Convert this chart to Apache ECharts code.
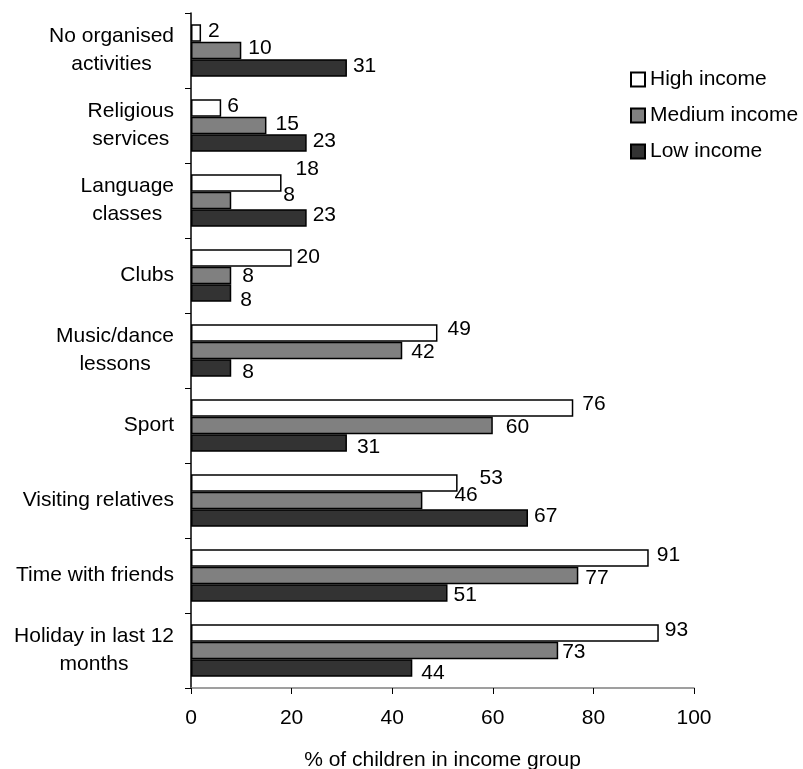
<!DOCTYPE html>
<html>
<head>
<meta charset="utf-8">
<script src="https://cdn.jsdelivr.net/npm/echarts@6/dist/echarts.min.js"></script>
<style>
  html, body { margin: 0; padding: 0; background: #ffffff; }
  #chart { width: 803px; height: 769px; }
</style>
</head>
<body>
<div id="chart"></div>
<script>
// Activities, listed top to bottom
const categories = [
  'No organised\nactivities',
  'Religious\nservices',
  'Language\nclasses',
  'Clubs',
  'Music/dance\nlessons',
  'Sport',
  'Visiting relatives',
  'Time with friends',
  'Holiday in last 12\nmonths'
];

const seriesNames = ['High income', 'Medium income', 'Low income'];

// % of children in each income group taking part
const highIncome   = [2, 6, 18, 20, 49, 76, 53, 91, 93];
const mediumIncome = [10, 15, 8, 8, 42, 60, 46, 77, 73];
const lowIncome    = [31, 23, 23, 8, 8, 31, 67, 51, 44];

// x axis scale
const xMin = 0;
const xMax = 100;
const xStep = 20;

// small label nudges [dx, dy] so crowded value labels stay readable
const highNudge   = [[1,-2],[0,-2],[8,-14],[-1,-1],[4,-4],[3,-4],[16,-5],[2,-3],[0,-3]];
const mediumNudge = [[1,-2],[3,-1],[46,-5],[5,1],[3,2],[7,2],[26,-5],[1,3],[-2,2]];
const lowNudge    = [[0,-2],[0,-2],[0,-3],[3,7],[5,4],[4,4],[0,-2],[0,2],[3,5]];

const FONT = '"Liberation Sans", Arial, Helvetica, sans-serif';
const FS = 21;

function withNudges(values, nudges) {
  return values.map((v, i) => ({ value: v, label: { offset: nudges[i] } }));
}

function barSeries(name, values, nudges, fill) {
  return {
    name: name,
    type: 'bar',
    barGap: '0%',
    barCategoryGap: '30%',
    itemStyle: { color: fill, borderColor: '#000000', borderWidth: 1.5 },
    label: {
      show: true,
      position: 'right',
      distance: 6,
      color: '#000000',
      fontSize: FS,
      fontFamily: FONT
    },
    emphasis: { disabled: true },
    data: withNudges(values, nudges)
  };
}

const chart = echarts.init(document.getElementById('chart'), null, { renderer: 'canvas' });

chart.setOption({
  animation: false,
  backgroundColor: '#ffffff',
  textStyle: { fontFamily: FONT },
  grid: { left: 191, right: 109, top: 13, bottom: 81, containLabel: false, outerBoundsMode: 'none' },
  legend: {
    orient: 'vertical',
    left: 630,
    top: 69,
    padding: 0,
    icon: 'rect',
    itemWidth: 14,
    itemHeight: 14,
    itemGap: 15,
    selectedMode: false,
    data: seriesNames,
    textStyle: { fontSize: FS, lineHeight: 21, color: '#000000', fontFamily: FONT }
  },
  xAxis: {
    type: 'value',
    min: xMin,
    max: xMax,
    interval: xStep,
    name: '% of children in income group',
    nameLocation: 'middle',
    nameGap: 62,
    nameTextStyle: { fontSize: FS, color: '#000000', fontFamily: FONT },
    axisLine: { show: true, lineStyle: { color: '#808080', width: 1.5 } },
    axisTick: { show: true, length: 6, lineStyle: { color: '#000000', width: 1 } },
    axisLabel: { margin: 20, fontSize: FS, color: '#000000', fontFamily: FONT },
    splitLine: { show: false }
  },
  yAxis: {
    type: 'category',
    inverse: true,
    data: categories,
    axisLine: { show: true, lineStyle: { color: '#000000', width: 1.5 } },
    axisTick: { show: true, length: 6, alignWithLabel: false, lineStyle: { color: '#000000', width: 1 } },
    axisLabel: {
      margin: 17,
      align: 'right',
      formatter: v => v.split('\n').map(line => '{c|' + line + '}').join('\n'),
      rich: {
        c: { align: 'center', fontSize: FS, lineHeight: 28, color: '#000000', fontFamily: FONT }
      }
    },
    splitLine: { show: false }
  },
  series: [
    barSeries(seriesNames[0], highIncome, highNudge, '#ffffff'),
    barSeries(seriesNames[1], mediumIncome, mediumNudge, '#808080'),
    barSeries(seriesNames[2], lowIncome, lowNudge, '#333333')
  ]
});
</script>
</body>
</html>
